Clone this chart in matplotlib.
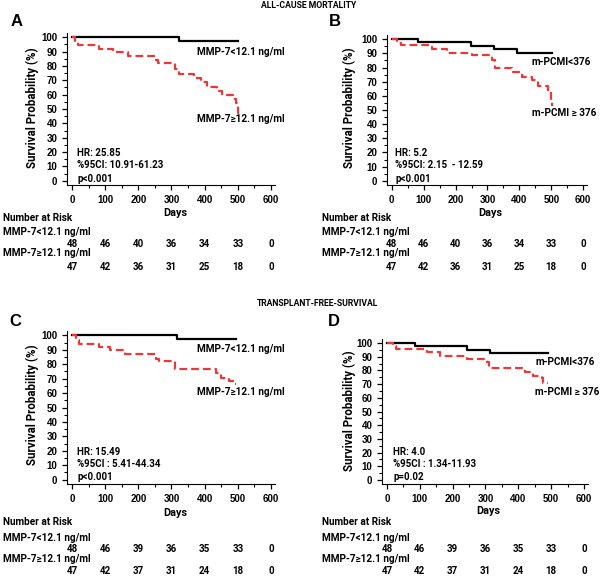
import matplotlib
matplotlib.use("Agg")
import matplotlib.pyplot as plt
from matplotlib.ticker import MultipleLocator
import matplotlib.transforms as mtransforms

# --- data (time in days, survival in %) ---
a_low_t = [0, 322, 499]
a_low_s = [100, 97.2, 97.2]
a_high_t = [0, 8, 17, 80, 125, 170, 252, 258, 312, 322, 368, 388, 408, 438, 453, 484, 494, 499, 502]
a_high_s = [100, 97, 94.5, 91.5, 89.5, 87, 84.5, 82, 78, 74.3, 71.5, 68.5, 65.5, 62.5, 59.5, 57, 54, 47, 47]

b_low_t = [0, 83, 248, 321, 392, 502]
b_low_s = [100, 97.7, 95.3, 92.8, 90, 90]
b_high_t = [0, 15, 28, 114, 125, 172, 250, 313, 325, 376, 409, 439, 459, 490, 498, 502]
b_high_s = [100, 97.4, 95.8, 94.2, 92.8, 90, 88.8, 85, 80, 76.5, 73.6, 70.9, 67, 63, 58, 53]

c_low_t = [0, 317, 494]
c_low_s = [100, 97.2, 97.2]
c_high_t = [0, 12, 20, 80, 115, 161, 252, 263, 312, 433, 448, 474, 484, 494]
c_high_s = [100, 97, 94, 91.8, 90.1, 87, 83.6, 82.2, 76.5, 74.2, 70.6, 68.3, 66, 66]

d_low_t = [0, 85, 243, 314, 490]
d_low_s = [100, 97.8, 95.3, 92.8, 92.8]
d_high_t = [0, 19, 27, 121, 162, 243, 304, 312, 421, 446, 471, 476, 491]
d_high_s = [100, 97.8, 95.8, 93.3, 90.9, 88.4, 86, 82, 79, 76, 74.3, 70.6, 70.6]

risk_times = [0, 100, 200, 300, 400, 500, 600]
risk_ab_low = [48, 46, 40, 36, 34, 33, 0]
risk_ab_high = [47, 42, 36, 31, 25, 18, 0]
risk_cd_low = [48, 46, 39, 36, 35, 33, 0]
risk_cd_high = [47, 42, 37, 31, 24, 18, 0]

stats_a = ["HR: 25.85", "%95CI: 10.91-61.23", "p<0.001"]
stats_b = ["HR: 5.2", "%95CI: 2.15  - 12.59", "p<0.001"]
stats_c = ["HR: 15.49", "%95CI : 5.41-44.34", "p<0.001"]
stats_d = ["HR: 4.0", "%95CI : 1.34-11.93", "p=0.02"]

W, H = 600, 577
RED = "#e8383a"
TXT = ["Roboto", "DejaVu Sans"]

fig = plt.figure(figsize=(W / 100, H / 100), dpi=100)


def fx(px):
    return px / W


def fy(py):
    return 1 - py / H


def txt(px, py, s, size=7.2, **kw):
    kw.setdefault("ha", "left")
    kw.setdefault("va", "center")
    fig.text(fx(px), fy(py), s, fontsize=size, fontweight="bold", family=TXT, **kw)


def panel(box, low_t, low_s, high_t, high_s, letter, labels, stats, risk_low, risk_high, rows):
    left, right, top, bottom = box["ax"]
    ax = fig.add_axes([fx(left), fy(bottom), fx(right - left), (bottom - top) / H])
    ax.step(low_t, low_s, where="post", color="black", lw=1.6)
    ax.step(high_t, high_s, where="post", color=RED, lw=1.6, dashes=(3.5, 1.8))
    ax.set_xlim(-15, 612)
    ax.set_ylim(-3, 103)
    ax.spines["top"].set_visible(False)
    ax.spines["right"].set_visible(False)
    ax.xaxis.set_major_locator(MultipleLocator(100))
    ax.xaxis.set_minor_locator(MultipleLocator(50))
    ax.yaxis.set_major_locator(MultipleLocator(10))
    ax.yaxis.set_minor_locator(MultipleLocator(5))
    ax.tick_params(which="major", length=3.5, width=0.9, labelsize=7, pad=3.5)
    ax.tick_params(which="minor", length=2, width=0.8)
    for lab in ax.get_xticklabels() + ax.get_yticklabels():
        lab.set_fontweight("bold")
        lab.set_family("Liberation Sans")

    # letter, y label, Days
    fig.text(fx(box["letter"][0]), fy(box["letter"][1]), letter, fontsize=12,
             fontweight="bold", family="Liberation Sans", ha="center", va="center")
    txt(box["ylab"][0], box["ylab"][1], "Survival Probability (%)", size=8.3,
        rotation=90, ha="center")
    txt(box["days"][0], box["days"][1], "Days", size=7.8, ha="center")

    # curve labels
    txt(box["lab"][0], box["lab"][1], labels[0])
    txt(box["lab"][0], box["lab"][2], labels[1])

    # stats
    for s, py in zip(stats, box["stats_y"]):
        txt(box["stats_x"], py, s, size=7)

    # number at risk
    tx = rows["x"]
    txt(tx, rows["y"][0], "Number at Risk")
    txt(tx, rows["y"][1], "MMP-7<12.1 ng/ml")
    txt(tx, rows["y"][3], "MMP-7≥12.1 ng/ml")
    trans = mtransforms.blended_transform_factory(ax.transData, fig.transFigure)
    for t, n1, n2 in zip(risk_times, risk_low, risk_high):
        fig.text(t, fy(rows["y"][2]), str(n1), transform=trans, fontsize=7,
                 fontweight="bold", family=TXT, ha="center", va="center")
        fig.text(t, fy(rows["y"][4]), str(n2), transform=trans, fontsize=7,
                 fontweight="bold", family=TXT, ha="center", va="center")


mmp = ["MMP-7<12.1 ng/ml", "MMP-7≥12.1 ng/ml"]
pcmi = ["m-PCMI<376", "m-PCMI ≥ 376"]

panel(dict(ax=(67, 275, 33, 185), letter=(17, 22), ylab=(32, 108), days=(175, 213),
           lab=(197, 52, 119), stats_x=77, stats_y=(153, 165, 179)),
      a_low_t, a_low_s, a_high_t, a_high_s, "A", mmp, stats_a, risk_ab_low, risk_ab_high,
      dict(x=3, y=(218, 232, 244, 253, 267)))

panel(dict(ax=(387, 587, 35, 185), letter=(335, 22), ylab=(349, 108), days=(490, 213),
           lab=(532, 62, 113), stats_x=395, stats_y=(153, 165, 179)),
      b_low_t, b_low_s, b_high_t, b_high_s, "B", pcmi, stats_b, risk_ab_low, risk_ab_high,
      dict(x=322, y=(218, 232, 244, 253, 267)))

panel(dict(ax=(67, 275, 331, 484), letter=(15, 322), ylab=(32, 405), days=(175, 513),
           lab=(197, 349, 392), stats_x=77, stats_y=(452, 464, 477)),
      c_low_t, c_low_s, c_high_t, c_high_s, "C", mmp, stats_c, risk_cd_low, risk_cd_high,
      dict(x=3, y=(522, 538, 549, 559, 571)))

panel(dict(ax=(382, 588, 339, 484), letter=(334, 321), ylab=(349, 411), days=(488, 511),
           lab=(535, 362, 392), stats_x=393, stats_y=(452, 464, 477)),
      d_low_t, d_low_s, d_high_t, d_high_s, "D", pcmi, stats_d, risk_cd_low, risk_cd_high,
      dict(x=322, y=(522, 538, 549, 559, 571)))

txt(309, 6, "ALL-CAUSE MORTALITY", size=6.2, ha="center")
txt(318, 304, "TRANSPLANT-FREE-SURVIVAL", size=6.2, ha="center")

fig.savefig("out.png", dpi=100, facecolor="white")
